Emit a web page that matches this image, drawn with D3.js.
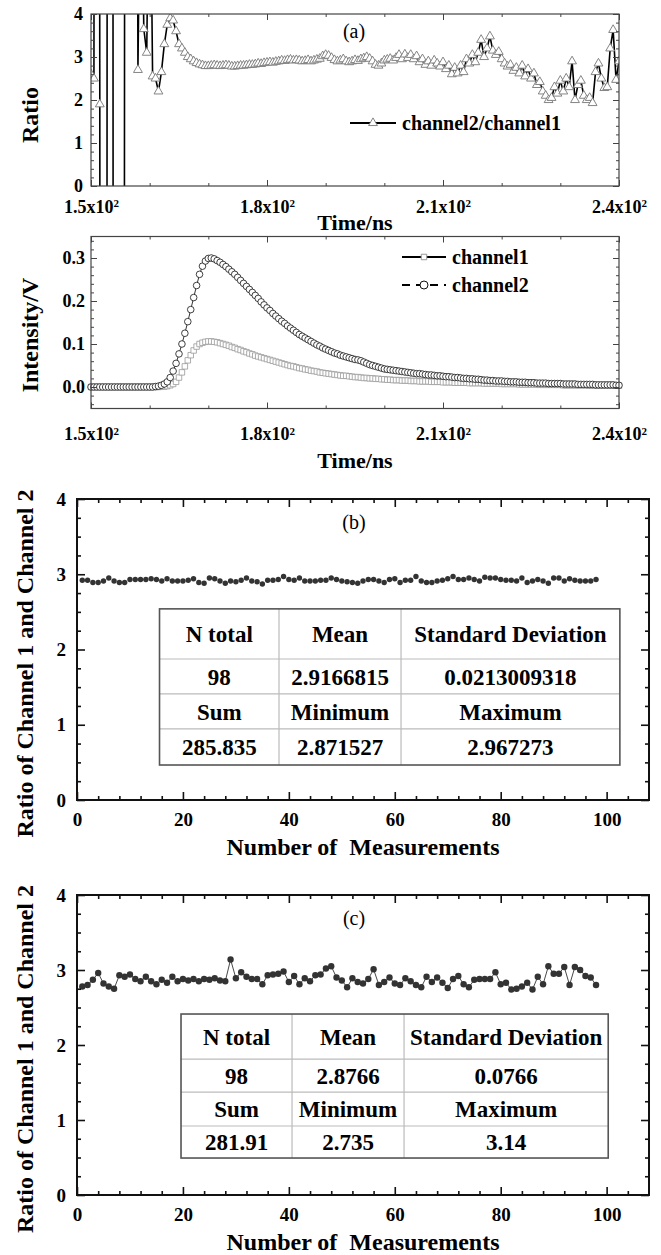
<!DOCTYPE html>
<html><head><meta charset="utf-8">
<script src="https://cdn.jsdelivr.net/npm/d3@7"></script>
<style>
html,body{margin:0;padding:0;background:#fff;}
svg{display:block;}
text{font-family:"Liberation Serif","Times New Roman",serif;}
</style></head><body>
<svg id="chart" width="661" height="1255"></svg>
<script>
// ---------------- DATA ----------------
const timeStart = 150, timeStep = 0.5;   // sampling grid of the time traces (ns)
// channel2/channel1 ratio, 150 ns .. 240 ns every 0.5 ns
const ratio = [
 2.6, 2.5, 80, 1.9, -90, -60, 70, 90, -80, -70,
 -50, -40, 60, 70, 50, 30, 2.7, 9, 3.65, 3.1,
 9, 2.55, 2.5, 2.2, 2.65, 3.3, 3.75, 3.9, 3.85, 3.6,
 3.3, 3.2, 3.1, 3.0, 2.95, 2.9, 2.86, 2.83, 2.81, 2.79,
 2.79, 2.8, 2.81, 2.8, 2.79, 2.8, 2.81, 2.8, 2.78, 2.78,
 2.79, 2.8, 2.8, 2.81, 2.82, 2.82, 2.83, 2.85, 2.84, 2.86,
 2.87, 2.88, 2.87, 2.89, 2.9, 2.92, 2.91, 2.93, 2.94, 2.92,
 2.93, 2.92, 2.9, 2.91, 2.93, 2.9, 2.92, 2.94, 2.96, 3.02,
 3.05, 3.03, 2.98, 2.93, 2.9, 2.92, 2.95, 2.9, 2.88, 2.9,
 2.93, 2.91, 2.95, 2.97, 3.0, 2.96, 2.9, 2.82, 2.8, 2.85,
 2.92, 2.94, 2.96, 2.92, 2.98, 3.05, 2.95, 3.06, 2.98, 3.05,
 2.95, 3.02, 2.88, 2.95, 2.82, 2.9, 2.8, 2.92, 2.85, 2.78,
 2.88, 2.72, 2.8, 2.6, 2.75, 2.62, 2.8, 2.65, 2.95, 2.85,
 3.05, 2.88, 3.1, 3.4, 3.0, 3.2, 3.48, 3.15, 3.05, 3.12,
 2.95, 2.85, 2.78, 2.82, 2.68, 2.75, 2.62, 2.8, 2.55, 2.72,
 2.5, 2.62, 2.35, 2.42, 2.2, 2.1, 2.0, 2.05, 2.3, 2.15,
 2.45, 2.2, 2.5, 2.3, 2.9, 2.0, 2.35, 2.45, 2.1, 2.0,
 2.05, 1.93, 2.65, 2.85, 2.5, 2.28, 2.3, 3.2, 3.63, 2.47,
 2.9
];
// channel1 intensity (V)
const channel1 = [
 0,0,0,0,0,0,0,0,0,0,
 0,0,0,0,0,0,0,0,0,0,
 0, 0, 0, 0, 0.001, 0.001, 0.002, 0.004, 0.007, 0.012,
 0.022, 0.034, 0.048, 0.062, 0.074, 0.085, 0.094, 0.1, 0.103, 0.105,
 0.106, 0.106, 0.105, 0.104, 0.102, 0.1, 0.098, 0.096, 0.093, 0.091,
 0.088, 0.086, 0.083, 0.081, 0.078, 0.076, 0.073, 0.071, 0.069, 0.067,
 0.065, 0.063, 0.061, 0.059, 0.057, 0.055, 0.053, 0.051, 0.049, 0.048,
 0.046, 0.044, 0.043, 0.041, 0.04, 0.038, 0.037, 0.036, 0.034, 0.033,
 0.032, 0.031, 0.03, 0.029, 0.028, 0.027, 0.026, 0.026, 0.025, 0.024,
 0.023, 0.023, 0.022, 0.021, 0.021, 0.02, 0.02, 0.019, 0.019, 0.018,
 0.018, 0.017, 0.017, 0.016, 0.016, 0.016, 0.015, 0.015, 0.015, 0.014,
 0.014, 0.014, 0.013, 0.013, 0.013, 0.013, 0.012, 0.012, 0.012, 0.012,
 0.011, 0.011, 0.011, 0.011, 0.01, 0.01, 0.01, 0.01, 0.01, 0.009,
 0.009, 0.009, 0.009, 0.009, 0.008, 0.008, 0.008, 0.008, 0.008, 0.008,
 0.007, 0.007, 0.007, 0.007, 0.007, 0.007, 0.006, 0.006, 0.006, 0.006,
 0.006, 0.006, 0.006, 0.005, 0.005, 0.005, 0.005, 0.005, 0.005, 0.005,
 0.005, 0.004, 0.004, 0.004, 0.004, 0.004, 0.004, 0.004, 0.004, 0.004,
 0.003, 0.003, 0.003, 0.003, 0.003, 0.003, 0.003, 0.003, 0.003, 0.003,
 0.003
];
// channel2 intensity (V)
const channel2 = [
 0,0,0,0,0,0,0,0,0,0,
 0,0,0,0,0,0,0,0,0,0,
 0, 0, 0.001, 0.002, 0.004, 0.007, 0.012, 0.022, 0.037, 0.055,
 0.077, 0.1, 0.125, 0.152, 0.18, 0.208, 0.236, 0.262, 0.281, 0.293,
 0.299, 0.3, 0.298, 0.294, 0.29, 0.285, 0.28, 0.274, 0.268, 0.262,
 0.255, 0.248, 0.241, 0.234, 0.227, 0.22, 0.213, 0.206, 0.198, 0.191,
 0.184, 0.178, 0.171, 0.165, 0.159, 0.153, 0.148, 0.142, 0.137, 0.132,
 0.127, 0.122, 0.118, 0.114, 0.11, 0.106, 0.102, 0.098, 0.095, 0.091,
 0.088, 0.085, 0.082, 0.079, 0.077, 0.074, 0.072, 0.07, 0.068, 0.066,
 0.064, 0.063, 0.061, 0.058, 0.055, 0.052, 0.05, 0.048, 0.046, 0.044,
 0.042, 0.041, 0.04, 0.039, 0.038, 0.037, 0.036, 0.035, 0.034, 0.033,
 0.032, 0.031, 0.031, 0.03, 0.029, 0.028, 0.028, 0.027, 0.026, 0.026,
 0.025, 0.024, 0.024, 0.023, 0.022, 0.022, 0.021, 0.02, 0.02, 0.019,
 0.019, 0.018, 0.018, 0.017, 0.016, 0.016, 0.015, 0.015, 0.014, 0.014,
 0.014, 0.013, 0.013, 0.012, 0.012, 0.012, 0.011, 0.011, 0.011, 0.01,
 0.01, 0.01, 0.009, 0.009, 0.009, 0.009, 0.008, 0.008, 0.008, 0.008,
 0.008, 0.007, 0.007, 0.007, 0.007, 0.007, 0.006, 0.006, 0.006, 0.006,
 0.006, 0.006, 0.005, 0.005, 0.005, 0.005, 0.005, 0.005, 0.005, 0.004,
 0.004
];
const timeTicks = [150, 180, 210, 240];
const timeTickLabels = ["1.5", "1.8", "2.1", "2.4"];
// ratio of channel 1 and channel 2, measurements 1..98
const ratioB = [
 2.92,2.92,2.89,2.89,2.91,2.95,2.91,2.89,2.89,2.93,
 2.93,2.93,2.93,2.94,2.93,2.91,2.94,2.91,2.91,2.91,
 2.92,2.94,2.89,2.88,2.95,2.94,2.91,2.88,2.91,2.90,
 2.92,2.95,2.91,2.90,2.87,2.92,2.92,2.93,2.97,2.93,
 2.92,2.95,2.91,2.91,2.91,2.92,2.92,2.95,2.93,2.91,
 2.90,2.89,2.88,2.91,2.93,2.93,2.91,2.89,2.93,2.94,
 2.89,2.92,2.92,2.97,2.91,2.89,2.89,2.91,2.92,2.94,
 2.97,2.93,2.93,2.95,2.93,2.91,2.96,2.95,2.95,2.93,
 2.92,2.92,2.91,2.95,2.89,2.91,2.93,2.91,2.88,2.95,
 2.95,2.91,2.94,2.92,2.91,2.91,2.91,2.93
];
const ratioC = [
 2.78,2.80,2.87,2.96,2.82,2.78,2.75,2.93,2.91,2.94,
 2.88,2.85,2.91,2.85,2.81,2.87,2.83,2.91,2.85,2.88,
 2.86,2.88,2.85,2.88,2.87,2.89,2.86,2.85,3.14,2.89,
 2.97,2.91,2.88,2.88,2.81,2.93,2.94,2.95,2.98,2.84,
 2.92,2.81,2.89,2.85,2.93,2.94,3.02,3.05,2.90,2.86,
 2.77,2.89,2.84,2.82,2.88,3.01,2.80,2.84,2.90,2.82,
 2.80,2.89,2.85,2.80,2.77,2.91,2.84,2.90,2.83,2.76,
 2.88,2.92,2.81,2.77,2.87,2.88,2.88,2.88,2.97,2.81,
 2.83,2.74,2.75,2.78,2.83,2.74,2.91,2.81,3.05,2.95,
 2.95,3.04,2.80,3.04,3.00,2.92,2.90,2.80
];
const measTicks = [0, 20, 40, 60, 80, 100];
const ratioTicks = [0, 1, 2, 3, 4];
const intensityTicks = [0, 0.1, 0.2, 0.3];
const statLabels1 = ["N total", "Mean", "Standard Deviation"];
const statLabels2 = ["Sum", "Minimum", "Maximum"];
const statsB1 = ["98", "2.9166815", "0.0213009318"];
const statsB2 = ["285.835", "2.871527", "2.967273"];
const statsC1 = ["98", "2.8766", "0.0766"];
const statsC2 = ["281.91", "2.735", "3.14"];

// ---------------- DRAWING ----------------
const FONT = '"Liberation Serif","Times New Roman",serif';
const svg = d3.select("#chart");
const timeOf = i => timeStart + i * timeStep;

function frameAxes(g, x, y, c) {
  const [xl, xr] = x.range(), [yb, yt] = y.range();
  const style = sel => {
    sel.select(".domain").remove();
    sel.attr("font-family", FONT).attr("font-size", c.fs);
    sel.selectAll(".tick line").attr("stroke", c.stroke).attr("stroke-width", c.tickW);
    sel.selectAll("text").attr("fill", "#000").attr("font-weight", "bold");
  };
  const mk = (axisFn, tv, len, pad, fmt, tr) =>
    g.append("g").attr("transform", tr)
     .call(axisFn.tickValues(tv).tickSize(-len).tickPadding(pad).tickFormat(fmt)).call(style);
  const bot = mk(d3.axisBottom(x), c.xMajor, c.maj, c.xPad, c.xFmt, `translate(0,${yb})`);
  mk(d3.axisBottom(x), c.xMinor, c.min, 0, () => "", `translate(0,${yb})`);
  mk(d3.axisTop(x), c.xMajor, c.maj, 0, () => "", `translate(0,${yt})`);
  mk(d3.axisTop(x), c.xMinor, c.min, 0, () => "", `translate(0,${yt})`);
  mk(d3.axisLeft(y), c.yMajor, c.maj, c.yPad, c.yFmt, `translate(${xl},0)`);
  mk(d3.axisLeft(y), c.yMinor, c.min, 0, () => "", `translate(${xl},0)`);
  mk(d3.axisRight(y), c.yMajor, c.maj, 0, () => "", `translate(${xr},0)`);
  mk(d3.axisRight(y), c.yMinor, c.min, 0, () => "", `translate(${xr},0)`);
  g.append("rect").attr("x", xl).attr("y", yt).attr("width", xr - xl).attr("height", yb - yt)
    .attr("fill", "none").attr("stroke", c.stroke).attr("stroke-width", c.frameW);
  return bot;
}
function sciLabels(axisG) {
  axisG.selectAll(".tick text").each(function(d, i) {
    const t = d3.select(this);
    t.text(timeTickLabels[i] + "x10");
    t.append("tspan").attr("dy", "-0.5em").attr("font-size", "11px").text("2");
  });
}
function title(txt, x, y, size, rot) {
  const t = svg.append("text").attr("font-family", FONT).attr("font-weight", "bold")
    .attr("font-size", size).attr("text-anchor", "middle").attr("fill", "#000")
    .style("white-space", "pre").text(txt);
  if (rot) t.attr("transform", `translate(${x},${y}) rotate(-90)`).attr("dy", "0.35em");
  else t.attr("x", x).attr("y", y);
  return t;
}
const notInt = (arr, step) => arr.filter(v => Math.abs(v / step - Math.round(v / step)) > 1e-6);

// ===== Panel (a): ratio =====
const xA = d3.scaleLinear().domain([150, 240]).range([91, 619]);
const yA = d3.scaleLinear().domain([0, 4]).range([186, 14]);
const gA = svg.append("g");
svg.append("clipPath").attr("id", "clipA").append("rect")
  .attr("x", 91).attr("y", 14).attr("width", 528).attr("height", 172);
const pA = gA.append("g").attr("clip-path", "url(#clipA)");
pA.append("path").datum(ratio)
  .attr("d", d3.line().x((d, i) => xA(timeOf(i))).y(d => yA(d)))
  .attr("fill", "none").attr("stroke", "#000").attr("stroke-width", 1.6);
const tri = d3.symbol().type(d3.symbolTriangle).size(34);
pA.selectAll("path.tri").data(ratio).join("path").attr("class", "tri")
  .attr("d", tri).attr("transform", (d, i) => `translate(${xA(timeOf(i))},${yA(d)})`)
  .attr("fill", "#fff").attr("stroke", "#777").attr("stroke-width", 0.9);
const timeMinor = [160, 170, 190, 200, 220, 230];
const botA = frameAxes(gA, xA, yA, {
  xMajor: timeTicks, xMinor: timeMinor, yMajor: ratioTicks,
  yMinor: notInt(d3.range(0.2, 4, 0.2), 1), xFmt: d => d, yFmt: d3.format("d"),
  maj: 6, min: 3, xPad: 14, yPad: 8, fs: 18, stroke: "#444", tickW: 1, frameW: 1.2
});
sciLabels(botA);
title("(a)", 354, 38, 20, false).attr("font-weight", "normal");
title("Time/ns", 355, 230, 22, false);
title("Ratio", 30, 115, 24, true);
// legend a
const lgA = gA.append("g");
lgA.append("line").attr("x1", 350).attr("x2", 396).attr("y1", 123).attr("y2", 123)
  .attr("stroke", "#000").attr("stroke-width", 2);
lgA.append("path").attr("d", tri).attr("transform", "translate(373,123)")
  .attr("fill", "#fff").attr("stroke", "#777").attr("stroke-width", 0.9);
lgA.append("text").attr("x", 402).attr("y", 123).attr("dy", "0.35em").attr("font-family", FONT)
  .attr("font-weight", "bold").attr("font-size", 20).text("channel2/channel1");

// ===== Intensity panel =====
const xI = d3.scaleLinear().domain([150, 240]).range([91, 619]);
const yI = d3.scaleLinear().domain([-0.05, 0.35]).range([408.5, 236.5]);
const gI = svg.append("g");
const sq = d3.symbol().type(d3.symbolSquare).size(30);
gI.append("path").datum(channel1)
  .attr("d", d3.line().x((d, i) => xI(timeOf(i))).y(d => yI(d)))
  .attr("fill", "none").attr("stroke", "#999").attr("stroke-width", 0.8);
gI.selectAll("path.sq").data(channel1).join("path").attr("class", "sq")
  .attr("d", sq).attr("transform", (d, i) => `translate(${xI(timeOf(i))},${yI(d)})`)
  .attr("fill", "#fff").attr("stroke", "#999").attr("stroke-width", 0.8);
gI.append("path").datum(channel2)
  .attr("d", d3.line().x((d, i) => xI(timeOf(i))).y(d => yI(d)))
  .attr("fill", "none").attr("stroke", "#000").attr("stroke-width", 0.8);
gI.selectAll("circle.c2").data(channel2).join("circle").attr("class", "c2")
  .attr("cx", (d, i) => xI(timeOf(i))).attr("cy", d => yI(d)).attr("r", 3.3)
  .attr("fill", "#fff").attr("stroke", "#111").attr("stroke-width", 0.8);
const botI = frameAxes(gI, xI, yI, {
  xMajor: timeTicks, xMinor: timeMinor, yMajor: intensityTicks,
  yMinor: notInt(d3.range(-4, 35, 2).map(v => v / 100), 0.1), xFmt: d => d, yFmt: d3.format(".1f"),
  maj: 6, min: 3, xPad: 19, yPad: 6, fs: 18, stroke: "#444", tickW: 1, frameW: 1.2
});
sciLabels(botI);
title("Time/ns", 355, 468, 22, false);
title("Intensity/V", 30, 335, 24, true);
// legend intensity
const lgI = gI.append("g");
lgI.append("line").attr("x1", 402).attr("x2", 446).attr("y1", 257).attr("y2", 257)
  .attr("stroke", "#000").attr("stroke-width", 2);
lgI.append("path").attr("d", sq).attr("transform", "translate(424,257)")
  .attr("fill", "#fff").attr("stroke", "#999").attr("stroke-width", 1);
lgI.append("line").attr("x1", 402).attr("x2", 446).attr("y1", 285).attr("y2", 285)
  .attr("stroke", "#000").attr("stroke-width", 2).attr("stroke-dasharray", "8,6");
lgI.append("circle").attr("cx", 424).attr("cy", 285).attr("r", 4)
  .attr("fill", "#fff").attr("stroke", "#111").attr("stroke-width", 1);
lgI.append("text").attr("x", 452).attr("y", 257).attr("dy", "0.35em").attr("font-family", FONT)
  .attr("font-weight", "bold").attr("font-size", 20).text("channel1");
lgI.append("text").attr("x", 452).attr("y", 285).attr("dy", "0.35em").attr("font-family", FONT)
  .attr("font-weight", "bold").attr("font-size", 20).text("channel2");

// ===== Panels (b) and (c) =====
function measPanel(vals, yRange, label, s1, s2, tbX, tbY, r, showLine) {
  const x = d3.scaleLinear().domain([0, 108]).range([77, 649]);
  const y = d3.scaleLinear().domain([0, 4]).range(yRange);
  const g = svg.append("g");
  if (showLine) {
    g.append("path").datum(vals)
      .attr("d", d3.line().x((d, i) => x(i + 1)).y(d => y(d)))
      .attr("fill", "none").attr("stroke", "#333").attr("stroke-width", 0.9);
  }
  g.selectAll("circle.m").data(vals).join("circle").attr("class", "m")
    .attr("cx", (d, i) => x(i + 1)).attr("cy", d => y(d)).attr("r", r).attr("fill", "#333");
  frameAxes(g, x, y, {
    xMajor: measTicks, xMinor: notInt(d3.range(4, 108, 4), 20), yMajor: ratioTicks,
    yMinor: notInt(d3.range(0.25, 4, 0.25), 1), xFmt: d3.format("d"), yFmt: d3.format("d"),
    maj: 8, min: 4, xPad: 13, yPad: 11, fs: 19, stroke: "#111", tickW: 1.6, frameW: 2
  });
  // table
  const xs = tbX.map(x), ys = tbY.map(y);
  const tg = g.append("g");
  tg.append("rect").attr("x", xs[0]).attr("y", ys[0]).attr("width", xs[3] - xs[0])
    .attr("height", ys[4] - ys[0]).attr("fill", "#fff");
  [1, 2].forEach(k => tg.append("line").attr("x1", xs[k]).attr("x2", xs[k])
    .attr("y1", ys[0]).attr("y2", ys[4]).attr("stroke", "#bbb").attr("stroke-width", 1.2));
  [1, 2, 3].forEach(k => tg.append("line").attr("x1", xs[0]).attr("x2", xs[3])
    .attr("y1", ys[k]).attr("y2", ys[k]).attr("stroke", "#bbb").attr("stroke-width", 1.2));
  tg.append("rect").attr("x", xs[0]).attr("y", ys[0]).attr("width", xs[3] - xs[0])
    .attr("height", ys[4] - ys[0]).attr("fill", "none").attr("stroke", "#555").attr("stroke-width", 1.6);
  [statLabels1, s1, statLabels2, s2].forEach((row, ri) => {
    row.forEach((txt, ci) => {
      tg.append("text").attr("x", (xs[ci] + xs[ci + 1]) / 2).attr("y", (ys[ri] + ys[ri + 1]) / 2)
        .attr("dy", "0.35em").attr("text-anchor", "middle").attr("font-family", FONT)
        .attr("font-weight", "bold").attr("font-size", 23).text(txt);
    });
  });
  title(label, 354, y(4) + 30, 20, false).attr("font-weight", "normal");
  title("Number of  Measurements", 363, yRange[0] + 55, 24, false);
  title("Ratio of Channel 1 and Channel 2", 25, (yRange[0] + yRange[1]) / 2 + 14, 24, true);
}
measPanel(ratioB, [800, 499], "(b)", statsB1, statsB2,
  [15.58, 38.14, 61.18, 102.5], [2.54, 1.874, 1.409, 0.944, 0.465], 2.7, false);
measPanel(ratioC, [1195, 895], "(c)", statsC1, statsC2,
  [19.64, 40.6, 61.75, 100.3], [2.413, 1.813, 1.373, 0.92, 0.493], 3.2, true);
</script>
</body></html>
